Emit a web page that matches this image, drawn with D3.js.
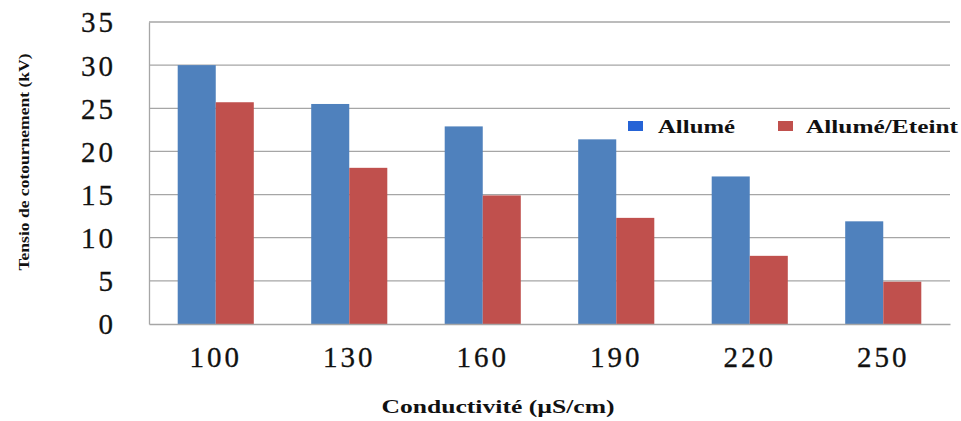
<!DOCTYPE html>
<html>
<head>
<meta charset="utf-8">
<script src="https://cdn.jsdelivr.net/npm/d3@7"></script>
<style>
  html, body { margin: 0; padding: 0; background: #fff; }
  svg { display: block; }
</style>
</head>
<body>
<div id="chart"></div>
<script>
// Flashover voltage vs. conductivity, two lighting modes
const categories = ["100", "130", "160", "190", "220", "250"];
const seriesNames = ["Allumé", "Allumé/Eteint"];
const allume = [30.0, 25.5, 22.9, 21.4, 17.1, 11.9];
const allumeEteint = [25.7, 18.1, 14.9, 12.3, 7.9, 4.9];
const yTicks = [0, 5, 10, 15, 20, 25, 30, 35];

const W = 961, H = 421;
const margin = { left: 149, right: 11, top: 22, bottom: 97 };
const innerW = W - margin.left - margin.right;
const innerH = H - margin.top - margin.bottom;

const barColors = ["#4f81bd", "#c0504d"];
const legendColors = ["#2563d6", "#c0504d"];
const serif = "'Liberation Serif', 'DejaVu Serif', serif";

const svg = d3.select("#chart").append("svg")
  .attr("width", W).attr("height", H);

const g = svg.append("g").attr("transform", `translate(${margin.left},${margin.top})`);

const x = d3.scaleBand().domain(categories).range([0, innerW]).paddingInner(0.43).paddingOuter(0.215);
const xs = d3.scaleBand().domain(seriesNames).range([0, x.bandwidth()]);
const y = d3.scaleLinear().domain([0, 35]).range([innerH, 0]);

// horizontal gridlines
g.append("g").selectAll("line").data(yTicks.filter(t => t > 0)).join("line")
  .attr("x1", 0).attr("x2", innerW)
  .attr("y1", d => y(d)).attr("y2", d => y(d))
  .attr("stroke", "#a6a6a6").attr("stroke-width", 1.3);

// bars
const rows = categories.map((c, i) => ({ c, v: [allume[i], allumeEteint[i]] }));
const grp = g.append("g").selectAll("g").data(rows).join("g")
  .attr("transform", d => `translate(${x(d.c)},0)`);
grp.selectAll("rect").data(d => d.v.map((v, k) => ({ k, v }))).join("rect")
  .attr("x", d => xs(seriesNames[d.k]))
  .attr("width", xs.bandwidth())
  .attr("y", d => y(d.v))
  .attr("height", d => innerH - y(d.v))
  .attr("fill", d => barColors[d.k]);

// y axis
const yAxis = g.append("g").call(d3.axisLeft(y).tickValues(yTicks).tickSize(0).tickPadding(33).tickFormat(d3.format("d")));
yAxis.select(".domain").attr("stroke", "#a6a6a6").attr("stroke-width", 1.3);
yAxis.selectAll("text")
  .attr("font-family", serif).attr("font-size", 29).attr("letter-spacing", 3)
  .attr("fill", "#111").attr("stroke", "#111").attr("stroke-width", 0.3)
  .attr("dy", "0.34em");

// x axis
const xAxis = g.append("g").attr("transform", `translate(0,${innerH})`)
  .call(d3.axisBottom(x).tickSize(0).tickPadding(22));
xAxis.select(".domain").attr("stroke", "#a6a6a6").attr("stroke-width", 1.3);
xAxis.selectAll("text")
  .attr("font-family", serif).attr("font-size", 29).attr("letter-spacing", 3)
  .attr("fill", "#111").attr("stroke", "#111").attr("stroke-width", 0.3)
  .attr("dy", "0.71em");

// axis titles
svg.append("text")
  .attr("transform", "translate(29,162) rotate(-90)")
  .attr("text-anchor", "middle")
  .attr("font-family", serif).attr("font-weight", "bold").attr("font-size", 15)
  .attr("textLength", 217).attr("lengthAdjust", "spacingAndGlyphs")
  .attr("fill", "#111")
  .text("Tensio de cotournement (kV)");

svg.append("text")
  .attr("x", 498).attr("y", 413)
  .attr("text-anchor", "middle")
  .attr("font-family", serif).attr("font-weight", "bold").attr("font-size", 19)
  .attr("textLength", 233).attr("lengthAdjust", "spacingAndGlyphs")
  .attr("fill", "#111")
  .text("Conductivité (µS/cm)");

// legend
const legendItems = [
  { name: seriesNames[0], sx: 628, tx: 658, tl: 77 },
  { name: seriesNames[1], sx: 778, tx: 806, tl: 152 }
];
const lg = svg.append("g").selectAll("g").data(legendItems).join("g");
lg.append("rect")
  .attr("x", d => d.sx).attr("y", 121).attr("width", 15).attr("height", 10)
  .attr("fill", (d, i) => legendColors[i]);
lg.append("text")
  .attr("x", d => d.tx).attr("y", 133)
  .attr("font-family", serif).attr("font-weight", "bold").attr("font-size", 19)
  .attr("textLength", d => d.tl).attr("lengthAdjust", "spacingAndGlyphs")
  .attr("fill", "#111")
  .text(d => d.name);
</script>
</body>
</html>
